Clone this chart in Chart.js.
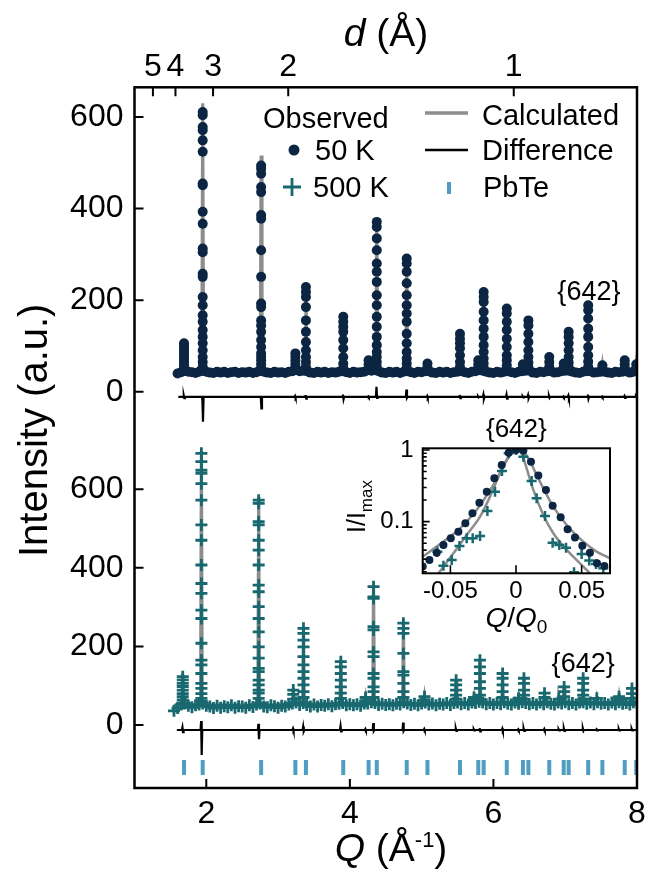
<!DOCTYPE html>
<html><head><meta charset="utf-8">
<script src="https://cdn.jsdelivr.net/npm/chart.js@4.4.1/dist/chart.umd.min.js"></script>
<style>
html,body{margin:0;padding:0;background:#fff;}
#wrap{position:relative;width:659px;height:878px;background:#fff;}
#main{position:absolute;left:0;top:0;}
#inset{position:absolute;left:340px;top:400px;}
</style></head><body>
<div id="wrap"><canvas id="main" width="659" height="878"></canvas><canvas id="inset" width="300" height="250"></canvas></div>
<script>
// ---------------- DATA ----------------
const qStep = 0.05;
// 50 K observed background, Q = 1.60 ... 8.00
const qStart50 = 1.60;
const obs50Base = [
40,43,46,44,43,41,44,46,44,42,
41,44,42,44,41,43,44,41,43,42,
44,41,43,46,44,42,41,44,42,43,
41,44,45,48,45,46,45,42,41,44,
42,44,41,43,42,44,45,43,41,44,
42,43,44,47,46,47,45,42,41,44,
42,44,41,44,45,43,41,44,43,45,
45,42,41,44,42,44,41,43,44,45,
43,41,44,45,47,46,44,42,41,44,
42,44,45,43,41,44,45,46,46,42,
41,44,43,45,45,42,43,45,46,46,
44,42,41,44,45,45,42,43,44,44,
42,41,44,43,44,45,42,44,45];
// 500 K observed background, Q = 1.55 ... 8.00
const qStart500 = 1.55;
const obs500Base = [
36,43,52,55,49,45,50,52,55,49,
47,43,49,44,48,45,50,44,48,47,
44,50,46,52,55,47,45,50,48,44,
49,47,52,55,57,51,56,51,47,52,
47,51,49,53,48,53,54,56,50,53,
50,53,49,55,55,58,56,51,54,51,
53,50,54,52,58,55,51,54,50,55,
57,52,55,50,54,52,56,51,56,57,
53,56,52,57,56,59,57,53,56,52,
56,53,58,54,52,57,54,58,56,53,
56,52,57,53,58,54,52,57,55,58,
53,56,52,57,58,54,57,53,58,54,
56,52,57,53,58,54,56,52,58,56];

// PbTe reflection positions (tick marks), Q in 1/A
const reflQ = [1.690,1.950,2.764,3.241,3.388,3.908,4.261,4.375,4.792,5.081,5.534,5.789,5.864,6.186,6.411,6.487,6.778,6.979,7.048,7.320,7.518,7.829,7.990];

// 50 K peaks: positions, observed point heights, calculated apex & foot
const peakQ50 = [1.690,1.950,2.764,3.241,3.388,3.908,4.261,4.375,4.792,5.081,5.534,5.789,5.864,6.186,6.411,6.487,6.778,6.979,7.048,7.320,7.518,7.829,7.990];
const obs50Peaks = [
[106,100,94,88,82,76,70,64,58,52],
[611,604,578,571,549,524,455,451,393,367,313,305,258,251,207,189,167,153,135,120,106,91,76,65,55],
[494,487,476,447,436,386,378,309,251,193,185,156,145,131,113,98,84,76,69,60,52],
[84,76,68,60,52],
[229,218,207,185,156,131,109,91,76,65,55],
[164,153,142,131,113,95,76,62,52],
[69,60,52],
[371,360,335,309,280,262,240,211,189,164,142,120,102,87,76,65,55],
[291,280,262,237,211,189,171,153,127,106,87,73,62,52],
[62,54],
[127,116,106,95,80,65,54],
[69,60,52],
[218,207,196,175,156,138,120,102,87,73,62,52],
[182,171,153,135,116,98,80,69,58],
[60,52],
[156,145,127,109,91,76,64,54],
[76,65,55],
[62,54],
[131,120,106,91,76,64,54],
[189,178,160,138,120,98,80,66,55],
[58,52],
[69,60,52],
[60,52]];
const calc50Apex = [108,630,516,86,234,168,70,376,296,63,130,70,222,186,61,160,77,62,134,194,58,70,61];
const calc50Foot = [43,43,43,43,43,43,43,43,43,43,43,43,43,43,43,43,43,43,43,43,43,43,43];
const diff50Level = -11;
const diff50Spikes = [[-8,-14],[-18,-65],[-14,-36],[-9,-13],[-7,-15],[-6,-16],[-10,-12],[11,-13],[5,-13],[-9,-13],[-7,-14],[-10,-12],[-6,-15],[-6,-15],[-10,-12],[-7,-14],[-9,-13],[-10,-12],[-8,-14],[-6,-15],[-10,-12],[-9,-13],[-10,-12]];

// 500 K peaks
const peakQ500 = [1.672,1.932,2.730,3.212,3.354,3.874,4.220,4.330,4.746,5.040,5.480,5.730,5.812,6.128,6.350,6.425,6.712,6.912,6.985,7.250,7.440,7.750,7.930];
const obs500Peaks = [
[123,115,106,98,89,80,72,64,56],
[691,670,648,640,614,572,509,470,407,360,335,292,271,208,165,153,131,106,93,80,68,60],
[572,564,517,509,470,445,407,356,339,301,271,237,199,170,144,136,114,102,89,81,68],
[89,78,66],
[246,233,216,199,174,153,136,119,102,85,70],
[161,148,131,114,97,81,68],
[70,62],
[352,326,322,250,242,186,174,131,119,97,85,70],
[259,246,233,182,136,127,106,85,70],
[72,64],
[114,102,89,76,66],
[70,63],
[165,148,131,110,93,76,66],
[131,119,102,85,70],
[68,62],
[119,106,89,76,66],
[81,70],
[66],
[97,85,72],
[119,106,89,76,66],
[68],
[72,65],
[93,80,68]];
const calc500Apex = [125,697,580,90,248,165,70,356,262,72,116,70,168,133,68,121,81,66,99,121,68,72,94];
const calc500Foot = [50,52,50,54,54,54,55,56,56,55,56,57,57,56,56,57,56,56,57,57,56,56,56];
const diff500Level = -12.7;
const diff500Spikes = [[-6,-18],[10,-76],[3,-36],[-9,-15],[-4,-16],[-3,-16],[-10,-14],[5,-15],[6,-15],[-10,-14],[-9,-15],[-11,-14],[-8,-16],[-9,-15],[-11,-14],[-9,-15],[-10,-14],[-11,-14],[-9,-15],[-9,-15],[-11,-14],[-10,-14],[-10,-14]];

// axis ticks
const qTicks = [2,4,6,8];
const dTicks = [5,4,3,2,1];
const yTicks = [0,200,400,600];

// inset: {642} peak, normalised
const insetQ50 = [-0.0711,-0.0660,-0.0604,-0.0553,-0.0497,-0.0439,-0.0386,-0.0332,-0.0279,-0.0223,-0.0165,-0.0109,-0.0056,0,0.0056,0.0114,0.0170,0.0228,0.0279,0.0340,0.0393,0.0449,0.0505,0.0563,0.0617,0.0673];
const insetI50 = [0.0236,0.0292,0.0369,0.0472,0.0585,0.0724,0.0948,0.131,0.184,0.262,0.403,0.618,0.918,1.0,0.98,0.687,0.439,0.277,0.166,0.115,0.0782,0.0598,0.0462,0.0369,0.0262,0.0241];
const insetQ500 = [-0.0599,-0.0553,-0.0490,-0.0431,-0.0376,-0.0330,-0.0274,-0.0218,-0.0160,-0.0107,-0.0056,0,0.0056,0.0119,0.0157,0.0221,0.0279,0.0330,0.0381,0.0442,0.0500,0.0558,0.0609,0.0665];
const insetI500 = [0.0381,0.0243,0.0292,0.0457,0.0585,0.0585,0.0631,0.141,0.262,0.509,0.898,1.0,0.807,0.369,0.212,0.120,0.0509,0.0472,0.0433,0.0196,0.0354,0.0286,0.0257,0.0223];
const insetCalcQ50 = [-0.0711,-0.0553,-0.0426,-0.0299,-0.0173,-0.0096,-0.0046,0,0.0056,0.0107,0.0157,0.0208,0.0284,0.0386,0.0513,0.0614,0.0716];
const insetCalcI50 = [0.0325,0.0526,0.0807,0.146,0.325,0.585,0.851,1.0,0.948,0.687,0.448,0.292,0.162,0.0898,0.0526,0.0381,0.0308];
const insetCalcQ500 = [-0.0591,-0.0477,-0.0376,-0.0274,-0.0198,-0.0122,-0.0058,0,0.0043,0.0081,0.0132,0.0208,0.0284,0.0386,0.0487,0.0563];
const insetCalcI500 = [0.019,0.0361,0.0652,0.1175,0.2234,0.472,0.807,1.0,0.898,0.554,0.277,0.124,0.0687,0.0403,0.0262,0.019];
const insetXTicks = [-0.05,0,0.05];
const insetXLabels = ['-0.05','0','0.05'];
const insetYMajor = [0.1,1];
const insetYMinor = [0.02,0.03,0.04,0.05,0.06,0.07,0.08,0.09,0.2,0.3,0.4,0.5,0.6,0.7,0.8,0.9];

// ---------------- STYLE ----------------
const NAVY = '#0b2542', TEAL = '#17686f', GRAY = '#8d8d8d', PBTE = '#4f9dc0';
const FONT = '"Liberation Sans", Arial, Helvetica, sans-serif';
const TICK = 9;
const peakHalfWidth = 0.012;
const spikeHalf = 0.004;
const pbteRowY = -108;

// ---------------- BUILD TABLES ----------------
function buildObs(qStart, base, peakQ, peaks) {
  const pts = base.map((v, i) => ({x: +(qStart + i * qStep).toFixed(3), y: v}));
  peakQ.forEach((q, k) => peaks[k].forEach(h => pts.push({x: q, y: h})));
  return pts;
}
function buildCalc(qFirst, peakQ, apex, foot) {
  const pts = [{x: qFirst, y: foot[0]}];
  peakQ.forEach((q, k) => {
    pts.push({x: q - peakHalfWidth, y: foot[k]}, {x: q, y: apex[k]}, {x: q + peakHalfWidth, y: foot[k]});
  });
  pts.push({x: 8, y: foot[foot.length - 1]});
  return pts;
}
function buildDiff(qFirst, peakQ, level, spikes) {
  const pts = [{x: qFirst, y: level}];
  peakQ.forEach((q, k) => {
    pts.push({x: q - 3 * spikeHalf, y: level}, {x: q - spikeHalf, y: spikes[k][0]},
             {x: q + spikeHalf, y: spikes[k][1]}, {x: q + 3 * spikeHalf, y: level});
  });
  pts.push({x: 8, y: level});
  return pts;
}
const zip = (xs, ys) => xs.map((x, i) => ({x, y: ys[i]}));

// ---------------- MAIN CHART ----------------
function runs(ctx, parts, x, y, align) {
  let total = 0;
  parts.forEach(p => { ctx.font = p.f; p.w = ctx.measureText(p.t).width; total += p.w; });
  let cx = align === 'center' ? x - total / 2 : x;
  parts.forEach(p => { ctx.font = p.f; ctx.fillText(p.t, cx, y + (p.dy || 0)); cx += p.w; });
}

const mainDecor = {
  id: 'mainDecor',
  afterDraw(chart) {
    const {ctx, chartArea: a, scales} = chart;
    ctx.save();
    // frame
    ctx.strokeStyle = '#000'; ctx.lineWidth = 2.5;
    ctx.strokeRect(a.left, a.top, a.right - a.left, a.bottom - a.top);
    // inward ticks
    ctx.lineWidth = 2;
    ctx.beginPath();
    [scales.yTop, scales.yBot].forEach(s => s.ticks.forEach(t => {
      const y = s.getPixelForValue(t.value); ctx.moveTo(a.left, y); ctx.lineTo(a.left + TICK, y);
    }));
    scales.x.ticks.forEach(t => {
      const x = scales.x.getPixelForValue(t.value); ctx.moveTo(x, a.bottom); ctx.lineTo(x, a.bottom - TICK);
    });
    scales.x2.ticks.forEach(t => {
      const x = scales.x2.getPixelForValue(t.value); ctx.moveTo(x, a.top); ctx.lineTo(x, a.top + TICK);
    });
    ctx.stroke();

    ctx.fillStyle = '#000';
    ctx.textBaseline = 'alphabetic';
    ctx.textAlign = 'left';
    // axis titles
    runs(ctx, [{t: 'd', f: 'italic 39px ' + FONT}, {t: ' (Å)', f: '39px ' + FONT}], 386, 46, 'center');
    runs(ctx, [{t: 'Q', f: 'italic 39px ' + FONT}, {t: ' (Å', f: '39px ' + FONT},
               {t: '-1', f: '22px ' + FONT, dy: -14}, {t: ')', f: '39px ' + FONT}], 391, 861, 'center');
    ctx.save();
    ctx.translate(47, 557);
    ctx.rotate(-Math.PI / 2);
    ctx.font = '40px ' + FONT;
    ctx.fillText('Intensity (a.u.)', 0, 0);
    ctx.restore();

    // legend
    const lf = '29px ' + FONT;
    ctx.font = lf;
    ctx.fillText('Observed', 263, 128);
    ctx.fillText('50 K', 315, 160);
    ctx.fillText('500 K', 313, 197);
    ctx.fillText('Calculated', 482, 125);
    ctx.fillText('Difference', 482, 160);
    ctx.fillText('PbTe', 483, 197);
    ctx.fillStyle = NAVY;
    ctx.beginPath(); ctx.arc(294, 150, 5.5, 0, 2 * Math.PI); ctx.fill();
    ctx.strokeStyle = TEAL; ctx.lineWidth = 2.8;
    ctx.beginPath(); ctx.moveTo(283, 187); ctx.lineTo(301, 187); ctx.moveTo(292, 178); ctx.lineTo(292, 196); ctx.stroke();
    ctx.strokeStyle = GRAY; ctx.lineWidth = 3.5;
    ctx.beginPath(); ctx.moveTo(425, 113); ctx.lineTo(468, 113); ctx.stroke();
    ctx.strokeStyle = '#000'; ctx.lineWidth = 2.5;
    ctx.beginPath(); ctx.moveTo(425, 150); ctx.lineTo(468, 150); ctx.stroke();
    ctx.strokeStyle = PBTE; ctx.lineWidth = 4;
    ctx.beginPath(); ctx.moveTo(449, 182); ctx.lineTo(449, 194); ctx.stroke();

    // {642} annotations anchored in data space
    ctx.fillStyle = '#000';
    ctx.font = '27px ' + FONT;
    ctx.textAlign = 'center';
    ctx.fillText('{642}', scales.x.getPixelForValue(7.33), scales.yTop.getPixelForValue(200));
    ctx.fillText('{642}', scales.x.getPixelForValue(7.25), scales.yBot.getPixelForValue(135));
    ctx.restore();
  }
};

const tickFont = {family: FONT, size: 32};
const yAxis = (min, max, weight, stackWeight) => ({
  type: 'linear', position: 'left', stack: 'panels', stackWeight, weight, min, max,
  afterBuildTicks: s => { s.ticks = yTicks.map(v => ({value: v})); },
  afterFit: s => { s.width = 134.5; },
  grid: {display: false, drawTicks: false}, border: {display: false},
  ticks: {font: tickFont, color: '#000', padding: 11, callback: v => String(v)}
});

new Chart(document.getElementById('main'), {
  type: 'scatter',
  data: {datasets: [
    {label: '50 K', yAxisID: 'yTop', data: buildObs(qStart50, obs50Base, peakQ50, obs50Peaks),
     pointStyle: 'circle', pointRadius: 5, pointBackgroundColor: NAVY, pointBorderWidth: 0, order: 1},
    {label: 'Difference 50 K', type: 'line', yAxisID: 'yTop', data: buildDiff(1.61, peakQ50, diff50Level, diff50Spikes),
     borderColor: '#000', borderWidth: 2.2, pointRadius: 0, tension: 0, order: 2},
    {label: 'Calculated 50 K', type: 'line', yAxisID: 'yTop', data: buildCalc(1.60, peakQ50, calc50Apex, calc50Foot),
     borderColor: GRAY, borderWidth: 3.2, pointRadius: 0, tension: 0, order: 3},
    {label: '500 K', yAxisID: 'yBot', data: buildObs(qStart500, obs500Base, peakQ500, obs500Peaks),
     pointStyle: 'cross', pointRadius: 6, pointBorderColor: TEAL, pointBorderWidth: 2.8, order: 1},
    {label: 'Difference 500 K', type: 'line', yAxisID: 'yBot', data: buildDiff(1.59, peakQ500, diff500Level, diff500Spikes),
     borderColor: '#000', borderWidth: 2.2, pointRadius: 0, tension: 0, order: 2},
    {label: 'Calculated 500 K', type: 'line', yAxisID: 'yBot', data: buildCalc(1.55, peakQ500, calc500Apex, calc500Foot),
     borderColor: GRAY, borderWidth: 3.2, pointRadius: 0, tension: 0, order: 3},
    {label: 'PbTe', yAxisID: 'yBot', data: reflQ.map(q => ({x: q, y: pbteRowY})),
     pointStyle: 'line', pointRotation: 90, pointRadius: 7.5, pointBorderColor: PBTE, pointBorderWidth: 4, order: 1}
  ]},
  options: {
    responsive: false, animation: false, devicePixelRatio: 1,
    layout: {padding: {left: 0, right: 22, top: 0, bottom: 0}},
    plugins: {legend: {display: false}, tooltip: {enabled: false}},
    scales: {
      x: {type: 'linear', position: 'bottom', min: 1, max: 8,
          afterBuildTicks: s => { s.ticks = qTicks.map(v => ({value: v})); },
          afterFit: s => { s.height = 90; },
          grid: {display: false, drawTicks: false}, border: {display: false},
          ticks: {font: tickFont, color: '#000', padding: 7, maxRotation: 0, autoSkip: false, callback: v => String(v)}},
      x2: {type: 'linear', position: 'top', min: 1, max: 8,
          afterBuildTicks: s => { s.ticks = dTicks.map(d => ({value: 2 * Math.PI / d})); },
          afterFit: s => { s.height = 87.3; },
          grid: {display: false, drawTicks: false}, border: {display: false},
          ticks: {font: tickFont, color: '#000', padding: 1, maxRotation: 0, autoSkip: false,
                  callback: (v, i) => String(dTicks[i])}},
      yTop: yAxis(-94.5, 664.8, 2, 348),
      yBot: yAxis(-160.2, 737.3, 1, 353)
    }
  },
  plugins: [mainDecor]
});

// ---------------- INSET ----------------
const insetDecor = {
  id: 'insetDecor',
  beforeDatasetsDraw(chart) {
    const {ctx, chartArea: a} = chart;
    ctx.save(); ctx.fillStyle = '#fff';
    ctx.fillRect(a.left, a.top, a.right - a.left, a.bottom - a.top);
    ctx.restore();
  },
  afterDraw(chart) {
    const {ctx, chartArea: a, scales} = chart;
    ctx.save();
    ctx.strokeStyle = '#000'; ctx.lineWidth = 2;
    ctx.strokeRect(a.left, a.top, a.right - a.left, a.bottom - a.top);
    ctx.lineWidth = 1.6;
    ctx.beginPath();
    insetXTicks.forEach(v => { const x = scales.x.getPixelForValue(v); ctx.moveTo(x, a.bottom); ctx.lineTo(x, a.bottom - 8); });
    insetYMajor.forEach(v => { const y = scales.y.getPixelForValue(v); ctx.moveTo(a.left, y); ctx.lineTo(a.left + 7, y); });
    insetYMinor.forEach(v => { const y = scales.y.getPixelForValue(v); ctx.moveTo(a.left, y); ctx.lineTo(a.left + 4, y); });
    ctx.stroke();
    ctx.fillStyle = '#000';
    ctx.textBaseline = 'alphabetic';
    ctx.textAlign = 'left';
    const cx = (a.left + a.right) / 2;
    ctx.font = '26px ' + FONT;
    ctx.textAlign = 'center';
    ctx.fillText('{642}', cx, 37);
    ctx.textAlign = 'left';
    runs(ctx, [{t: 'Q', f: 'italic 28px ' + FONT}, {t: '/', f: '28px ' + FONT}, {t: 'Q', f: 'italic 28px ' + FONT},
               {t: '0', f: '19px ' + FONT, dy: 6}], cx, 227, 'center');
    ctx.save();
    ctx.translate(25, 133);
    ctx.rotate(-Math.PI / 2);
    runs(ctx, [{t: 'I/I', f: '25px ' + FONT}, {t: 'max', f: '17px ' + FONT, dy: 7}], 0, 0, 'left');
    ctx.restore();
    ctx.restore();
  }
};

new Chart(document.getElementById('inset'), {
  type: 'scatter',
  data: {datasets: [
    {label: '50 K', data: zip(insetQ50, insetI50), pointStyle: 'circle', pointRadius: 4,
     pointBackgroundColor: NAVY, pointBorderWidth: 0, order: 1},
    {label: '500 K', data: zip(insetQ500, insetI500), pointStyle: 'cross', pointRadius: 5,
     pointBorderColor: TEAL, pointBorderWidth: 2.5, order: 1},
    {label: 'Calc 50 K', type: 'line', data: zip(insetCalcQ50, insetCalcI50), borderColor: GRAY, borderWidth: 2.5,
     pointRadius: 0, cubicInterpolationMode: 'monotone', order: 2},
    {label: 'Calc 500 K', type: 'line', data: zip(insetCalcQ500, insetCalcI500), borderColor: GRAY, borderWidth: 2.5,
     pointRadius: 0, cubicInterpolationMode: 'monotone', order: 2}
  ]},
  options: {
    responsive: false, animation: false, devicePixelRatio: 1,
    layout: {padding: {left: 0, right: 30, top: 48.3, bottom: 0}},
    plugins: {legend: {display: false}, tooltip: {enabled: false}},
    scales: {
      x: {type: 'linear', min: -0.0711, max: 0.0716,
          afterBuildTicks: s => { s.ticks = insetXTicks.map(v => ({value: v})); },
          afterFit: s => { s.height = 76.7; },
          grid: {display: false, drawTicks: false}, border: {display: false},
          ticks: {font: {family: FONT, size: 24}, color: '#000', padding: 4, maxRotation: 0, autoSkip: false,
                  callback: (v, i) => insetXLabels[i]}},
      y: {type: 'logarithmic', min: 0.019, max: 1.055,
          afterBuildTicks: s => { s.ticks = insetYMajor.map(v => ({value: v})); },
          afterFit: s => { s.width = 82.7; },
          grid: {display: false, drawTicks: false}, border: {display: false},
          ticks: {font: {family: FONT, size: 24}, color: '#000', padding: 9, autoSkip: false,
                  callback: v => String(v)}}
    }
  },
  plugins: [insetDecor]
});
</script></body></html>
